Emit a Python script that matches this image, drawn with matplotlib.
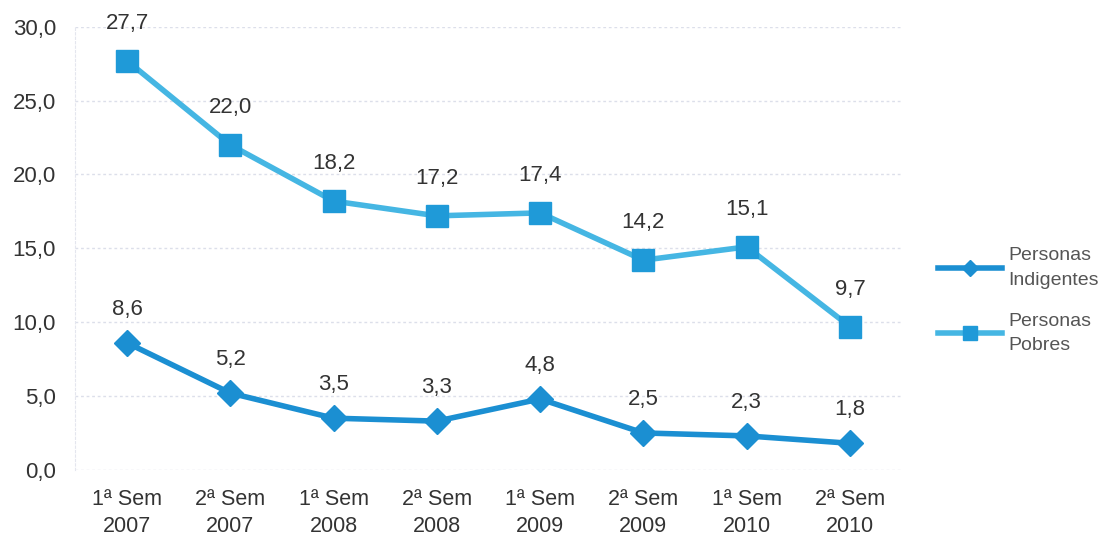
import matplotlib
matplotlib.use('Agg')
import matplotlib.pyplot as plt
import numpy as np

plt.rcParams['font.family'] = ['Liberation Sans', 'DejaVu Sans']

# data
periodos = ['1ª Sem\n2007', '2ª Sem\n2007', '1ª Sem\n2008', '2ª Sem\n2008',
            '1ª Sem\n2009', '2ª Sem\n2009', '1ª Sem\n2010', '2ª Sem\n2010']
indigentes = [8.6, 5.2, 3.5, 3.3, 4.8, 2.5, 2.3, 1.8]
pobres = [27.7, 22.0, 18.2, 17.2, 17.4, 14.2, 15.1, 9.7]
yticks = [0, 5, 10, 15, 20, 25, 30]

c_ind = '#1b8fd2'
c_pob_line = '#45b6e3'
c_pob_mark = '#1f9ad8'
txt = '#333333'

fig = plt.figure(figsize=(11.09, 5.47), dpi=100)
ax = fig.add_axes([0.068, 0.141, 0.745, 0.810])

x = np.arange(len(periodos))

ax.plot(x, indigentes, color=c_ind, lw=4, marker='D', ms=13,
        mfc=c_ind, mec=c_ind, label='Personas\nIndigentes', zorder=3)
ax.plot(x, pobres, color=c_pob_line, lw=4, marker='s', ms=16,
        mfc=c_pob_mark, mec=c_pob_mark, label='Personas\nPobres', zorder=3)

for xi, v in zip(x, indigentes):
    ax.annotate(f'{v:.1f}'.replace('.', ','), (xi, v), xytext=(0, 24),
                textcoords='offset points', ha='center', va='center',
                fontsize=16, color=txt)
for xi, v in zip(x, pobres):
    ax.annotate(f'{v:.1f}'.replace('.', ','), (xi, v), xytext=(0, 27),
                textcoords='offset points', ha='center', va='center',
                fontsize=16, color=txt)

ax.set_xlim(-0.5, len(periodos) - 0.5)
ax.set_ylim(0, 30)
ax.set_yticks(yticks)
ax.set_yticklabels([f'{t:.1f}'.replace('.', ',') for t in yticks],
                   fontsize=16, color=txt)
ax.set_xticks(x)
ax.set_xticklabels(periodos, fontsize=15.5, color=txt, linespacing=1.35)
ax.tick_params(length=0)
ax.tick_params(axis='x', pad=14)
ax.tick_params(axis='y', pad=14)

ax.grid(axis='y', color='#dcdfea', lw=1, ls=(0, (2, 2)))
ax.set_axisbelow(True)
for s in ['top', 'right', 'bottom']:
    ax.spines[s].set_visible(False)
ax.spines['left'].set_color('#e4e6ee')
ax.spines['left'].set_linestyle((0, (2, 2)))

leg = fig.legend(loc='center left', bbox_to_anchor=(0.83, 0.45), frameon=False,
                 fontsize=14, labelcolor='#555555', handlelength=3.3,
                 handletextpad=0.3, labelspacing=1.2, markerscale=0.6)
for t in leg.get_texts():
    t.set_linespacing(1.6)

fig.savefig('out.png', dpi=100)
